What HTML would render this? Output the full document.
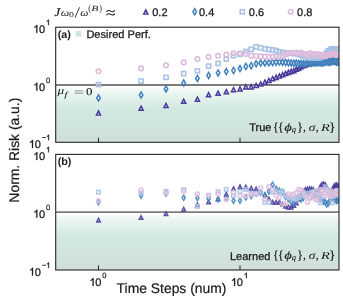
<!DOCTYPE html><html><head><meta charset="utf-8"><title>chart</title><style>html,body{margin:0;padding:0;background:#fff;}svg{display:block;text-rendering:geometricPrecision;will-change:transform;}</style></head><body><svg width="343" height="299" viewBox="0 0 343 299" font-family="Liberation Sans, sans-serif" fill="#1a1a1a">
<defs><linearGradient id="grad" x1="0" y1="0" x2="0" y2="1"><stop offset="0" stop-color="#ffffff"/><stop offset="0.15" stop-color="#eaf5f1"/><stop offset="0.42" stop-color="#d1e9e0"/><stop offset="1" stop-color="#cfdfd9"/></linearGradient></defs>
<rect width="343" height="299" fill="#fff"/>
<clipPath id="ca"><rect x="55.7" y="27.2" width="283.3" height="115.10000000000001"/></clipPath>
<rect x="55.7" y="85.00" width="283.3" height="57.30" fill="url(#grad)"/>
<g clip-path="url(#ca)">
<line x1="55.7" y1="85.00" x2="339.0" y2="85.00" stroke="#7c7c7c" stroke-width="1.8"/>
<g stroke-opacity="1.0">
<path d="M98.50,110.90L100.60,115.10L96.40,115.10Z" fill="#c9c4e6" fill-opacity="0.4" stroke="#47399a" stroke-width="1.45"/>
<path d="M141.10,106.10L143.20,110.30L139.00,110.30Z" fill="#c9c4e6" fill-opacity="0.4" stroke="#47399a" stroke-width="1.45"/>
<path d="M166.01,103.30L168.11,107.50L163.91,107.50Z" fill="#c9c4e6" fill-opacity="0.4" stroke="#47399a" stroke-width="1.45"/>
<path d="M183.69,99.10L185.79,103.30L181.59,103.30Z" fill="#c9c4e6" fill-opacity="0.4" stroke="#47399a" stroke-width="1.45"/>
<path d="M197.40,97.10L199.50,101.30L195.30,101.30Z" fill="#c9c4e6" fill-opacity="0.4" stroke="#47399a" stroke-width="1.45"/>
<path d="M208.61,92.60L210.71,96.80L206.51,96.80Z" fill="#c9c4e6" fill-opacity="0.4" stroke="#47399a" stroke-width="1.45"/>
<path d="M218.08,91.10L220.18,95.30L215.98,95.30Z" fill="#c9c4e6" fill-opacity="0.4" stroke="#47399a" stroke-width="1.45"/>
<path d="M226.29,89.60L228.39,93.80L224.19,93.80Z" fill="#c9c4e6" fill-opacity="0.4" stroke="#47399a" stroke-width="1.45"/>
<path d="M233.53,87.50L235.63,91.70L231.43,91.70Z" fill="#c9c4e6" fill-opacity="0.4" stroke="#47399a" stroke-width="1.45"/>
<path d="M240.00,86.70L242.10,90.90L237.90,90.90Z" fill="#c9c4e6" fill-opacity="0.4" stroke="#47399a" stroke-width="1.45"/>
<path d="M245.86,84.70L247.96,88.90L243.76,88.90Z" fill="#c9c4e6" fill-opacity="0.4" stroke="#47399a" stroke-width="1.45"/>
<path d="M251.20,84.70L253.30,88.90L249.10,88.90Z" fill="#c9c4e6" fill-opacity="0.4" stroke="#47399a" stroke-width="1.45"/>
<path d="M256.12,83.40L258.22,87.60L254.02,87.60Z" fill="#c9c4e6" fill-opacity="0.4" stroke="#47399a" stroke-width="1.45"/>
<path d="M260.68,81.80L262.78,86.00L258.58,86.00Z" fill="#c9c4e6" fill-opacity="0.4" stroke="#47399a" stroke-width="1.45"/>
<path d="M264.92,80.00L267.02,84.20L262.82,84.20Z" fill="#c9c4e6" fill-opacity="0.4" stroke="#47399a" stroke-width="1.45"/>
<path d="M268.88,78.30L270.98,82.50L266.78,82.50Z" fill="#c9c4e6" fill-opacity="0.4" stroke="#47399a" stroke-width="1.45"/>
<path d="M272.61,76.50L274.71,80.70L270.51,80.70Z" fill="#c9c4e6" fill-opacity="0.4" stroke="#47399a" stroke-width="1.45"/>
<path d="M276.12,75.20L278.22,79.40L274.02,79.40Z" fill="#c9c4e6" fill-opacity="0.4" stroke="#47399a" stroke-width="1.45"/>
<path d="M279.44,73.90L281.54,78.10L277.34,78.10Z" fill="#c9c4e6" fill-opacity="0.4" stroke="#47399a" stroke-width="1.45"/>
<path d="M282.60,72.60L284.70,76.80L280.50,76.80Z" fill="#c9c4e6" fill-opacity="0.4" stroke="#47399a" stroke-width="1.45"/>
<path d="M285.59,71.40L287.69,75.60L283.49,75.60Z" fill="#c9c4e6" fill-opacity="0.4" stroke="#47399a" stroke-width="1.45"/>
<path d="M288.45,70.20L290.55,74.40L286.35,74.40Z" fill="#c9c4e6" fill-opacity="0.4" stroke="#47399a" stroke-width="1.45"/>
<path d="M291.18,69.20L293.28,73.40L289.08,73.40Z" fill="#c9c4e6" fill-opacity="0.4" stroke="#47399a" stroke-width="1.45"/>
<path d="M293.80,68.50L295.90,72.70L291.70,72.70Z" fill="#c9c4e6" fill-opacity="0.4" stroke="#47399a" stroke-width="1.45"/>
<path d="M296.31,66.96L298.41,71.16L294.21,71.16Z" fill="#c9c4e6" fill-opacity="0.4" stroke="#47399a" stroke-width="1.45"/>
<path d="M298.72,66.11L300.82,70.31L296.62,70.31Z" fill="#c9c4e6" fill-opacity="0.4" stroke="#47399a" stroke-width="1.45"/>
<path d="M301.04,64.57L303.14,68.77L298.94,68.77Z" fill="#c9c4e6" fill-opacity="0.4" stroke="#47399a" stroke-width="1.45"/>
<path d="M303.27,63.58L305.37,67.78L301.17,67.78Z" fill="#c9c4e6" fill-opacity="0.4" stroke="#47399a" stroke-width="1.45"/>
<path d="M305.43,62.72L307.53,66.92L303.33,66.92Z" fill="#c9c4e6" fill-opacity="0.4" stroke="#47399a" stroke-width="1.45"/>
<path d="M307.51,61.73L309.61,65.93L305.41,65.93Z" fill="#c9c4e6" fill-opacity="0.4" stroke="#47399a" stroke-width="1.45"/>
<path d="M309.53,61.55L311.63,65.75L307.43,65.75Z" fill="#c9c4e6" fill-opacity="0.4" stroke="#47399a" stroke-width="1.45"/>
<path d="M311.48,60.80L313.58,65.00L309.38,65.00Z" fill="#c9c4e6" fill-opacity="0.4" stroke="#47399a" stroke-width="1.45"/>
<path d="M313.37,60.36L315.47,64.56L311.27,64.56Z" fill="#c9c4e6" fill-opacity="0.4" stroke="#47399a" stroke-width="1.45"/>
<path d="M315.20,60.47L317.30,64.67L313.10,64.67Z" fill="#c9c4e6" fill-opacity="0.4" stroke="#47399a" stroke-width="1.45"/>
<path d="M316.99,60.36L319.09,64.56L314.89,64.56Z" fill="#c9c4e6" fill-opacity="0.4" stroke="#47399a" stroke-width="1.45"/>
<path d="M318.72,60.30L320.82,64.50L316.62,64.50Z" fill="#c9c4e6" fill-opacity="0.4" stroke="#47399a" stroke-width="1.45"/>
<path d="M320.40,59.49L322.50,63.69L318.30,63.69Z" fill="#c9c4e6" fill-opacity="0.4" stroke="#47399a" stroke-width="1.45"/>
<path d="M322.04,59.59L324.14,63.79L319.94,63.79Z" fill="#c9c4e6" fill-opacity="0.4" stroke="#47399a" stroke-width="1.45"/>
<path d="M323.64,59.56L325.74,63.76L321.54,63.76Z" fill="#c9c4e6" fill-opacity="0.4" stroke="#47399a" stroke-width="1.45"/>
<path d="M325.19,59.48L327.29,63.68L323.09,63.68Z" fill="#c9c4e6" fill-opacity="0.4" stroke="#47399a" stroke-width="1.45"/>
<path d="M326.71,59.66L328.81,63.86L324.61,63.86Z" fill="#c9c4e6" fill-opacity="0.4" stroke="#47399a" stroke-width="1.45"/>
<path d="M328.19,59.36L330.29,63.56L326.09,63.56Z" fill="#c9c4e6" fill-opacity="0.4" stroke="#47399a" stroke-width="1.45"/>
<path d="M329.64,58.93L331.74,63.13L327.54,63.13Z" fill="#c9c4e6" fill-opacity="0.4" stroke="#47399a" stroke-width="1.45"/>
<path d="M331.05,58.87L333.15,63.07L328.95,63.07Z" fill="#c9c4e6" fill-opacity="0.4" stroke="#47399a" stroke-width="1.45"/>
<path d="M332.43,59.11L334.53,63.31L330.33,63.31Z" fill="#c9c4e6" fill-opacity="0.4" stroke="#47399a" stroke-width="1.45"/>
<path d="M333.78,59.20L335.88,63.40L331.68,63.40Z" fill="#c9c4e6" fill-opacity="0.4" stroke="#47399a" stroke-width="1.45"/>
<path d="M335.10,59.21L337.20,63.41L333.00,63.41Z" fill="#c9c4e6" fill-opacity="0.4" stroke="#47399a" stroke-width="1.45"/>
<path d="M336.40,58.83L338.50,63.03L334.30,63.03Z" fill="#c9c4e6" fill-opacity="0.4" stroke="#47399a" stroke-width="1.45"/>
<path d="M337.66,58.62L339.76,62.82L335.56,62.82Z" fill="#c9c4e6" fill-opacity="0.4" stroke="#47399a" stroke-width="1.45"/>
<path d="M338.90,58.89L341.00,63.09L336.80,63.09Z" fill="#c9c4e6" fill-opacity="0.4" stroke="#47399a" stroke-width="1.45"/>
<path d="M98.50,94.85L100.30,97.90L98.50,100.95L96.70,97.90Z" fill="#e4eef8" fill-opacity="0.4" stroke="#3f7fbc" stroke-width="1.45"/>
<path d="M141.10,91.85L142.90,94.90L141.10,97.95L139.30,94.90Z" fill="#e4eef8" fill-opacity="0.4" stroke="#3f7fbc" stroke-width="1.45"/>
<path d="M166.01,85.85L167.81,88.90L166.01,91.95L164.21,88.90Z" fill="#e4eef8" fill-opacity="0.4" stroke="#3f7fbc" stroke-width="1.45"/>
<path d="M183.69,79.85L185.49,82.90L183.69,85.95L181.89,82.90Z" fill="#e4eef8" fill-opacity="0.4" stroke="#3f7fbc" stroke-width="1.45"/>
<path d="M197.40,75.35L199.20,78.40L197.40,81.45L195.60,78.40Z" fill="#e4eef8" fill-opacity="0.4" stroke="#3f7fbc" stroke-width="1.45"/>
<path d="M208.61,72.35L210.41,75.40L208.61,78.45L206.81,75.40Z" fill="#e4eef8" fill-opacity="0.4" stroke="#3f7fbc" stroke-width="1.45"/>
<path d="M218.08,69.85L219.88,72.90L218.08,75.95L216.28,72.90Z" fill="#e4eef8" fill-opacity="0.4" stroke="#3f7fbc" stroke-width="1.45"/>
<path d="M226.29,68.55L228.09,71.60L226.29,74.65L224.49,71.60Z" fill="#e4eef8" fill-opacity="0.4" stroke="#3f7fbc" stroke-width="1.45"/>
<path d="M233.53,67.45L235.33,70.50L233.53,73.55L231.73,70.50Z" fill="#e4eef8" fill-opacity="0.4" stroke="#3f7fbc" stroke-width="1.45"/>
<path d="M240.00,65.55L241.80,68.60L240.00,71.65L238.20,68.60Z" fill="#e4eef8" fill-opacity="0.4" stroke="#3f7fbc" stroke-width="1.45"/>
<path d="M245.86,63.45L247.66,66.50L245.86,69.55L244.06,66.50Z" fill="#e4eef8" fill-opacity="0.4" stroke="#3f7fbc" stroke-width="1.45"/>
<path d="M251.20,62.65L253.00,65.70L251.20,68.75L249.40,65.70Z" fill="#e4eef8" fill-opacity="0.4" stroke="#3f7fbc" stroke-width="1.45"/>
<path d="M256.12,60.75L257.92,63.80L256.12,66.85L254.32,63.80Z" fill="#e4eef8" fill-opacity="0.4" stroke="#3f7fbc" stroke-width="1.45"/>
<path d="M260.68,60.05L262.48,63.10L260.68,66.15L258.88,63.10Z" fill="#e4eef8" fill-opacity="0.4" stroke="#3f7fbc" stroke-width="1.45"/>
<path d="M264.92,59.85L266.72,62.90L264.92,65.95L263.12,62.90Z" fill="#e4eef8" fill-opacity="0.4" stroke="#3f7fbc" stroke-width="1.45"/>
<path d="M268.88,59.65L270.68,62.70L268.88,65.75L267.08,62.70Z" fill="#e4eef8" fill-opacity="0.4" stroke="#3f7fbc" stroke-width="1.45"/>
<path d="M272.61,59.45L274.41,62.50L272.61,65.55L270.81,62.50Z" fill="#e4eef8" fill-opacity="0.4" stroke="#3f7fbc" stroke-width="1.45"/>
<path d="M276.12,59.15L277.92,62.20L276.12,65.25L274.32,62.20Z" fill="#e4eef8" fill-opacity="0.4" stroke="#3f7fbc" stroke-width="1.45"/>
<path d="M279.44,59.05L281.24,62.10L279.44,65.15L277.64,62.10Z" fill="#e4eef8" fill-opacity="0.4" stroke="#3f7fbc" stroke-width="1.45"/>
<path d="M282.60,59.15L284.40,62.20L282.60,65.25L280.80,62.20Z" fill="#e4eef8" fill-opacity="0.4" stroke="#3f7fbc" stroke-width="1.45"/>
<path d="M285.59,59.45L287.39,62.50L285.59,65.55L283.79,62.50Z" fill="#e4eef8" fill-opacity="0.4" stroke="#3f7fbc" stroke-width="1.45"/>
<path d="M288.45,59.75L290.25,62.80L288.45,65.85L286.65,62.80Z" fill="#e4eef8" fill-opacity="0.4" stroke="#3f7fbc" stroke-width="1.45"/>
<path d="M291.18,59.85L292.98,62.90L291.18,65.95L289.38,62.90Z" fill="#e4eef8" fill-opacity="0.4" stroke="#3f7fbc" stroke-width="1.45"/>
<path d="M293.80,60.15L295.60,63.20L293.80,66.25L292.00,63.20Z" fill="#e4eef8" fill-opacity="0.4" stroke="#3f7fbc" stroke-width="1.45"/>
<path d="M296.31,60.03L298.11,63.08L296.31,66.13L294.51,63.08Z" fill="#e4eef8" fill-opacity="0.4" stroke="#3f7fbc" stroke-width="1.45"/>
<path d="M298.72,60.39L300.52,63.44L298.72,66.49L296.92,63.44Z" fill="#e4eef8" fill-opacity="0.4" stroke="#3f7fbc" stroke-width="1.45"/>
<path d="M301.04,60.47L302.84,63.52L301.04,66.57L299.24,63.52Z" fill="#e4eef8" fill-opacity="0.4" stroke="#3f7fbc" stroke-width="1.45"/>
<path d="M303.27,60.84L305.07,63.89L303.27,66.94L301.47,63.89Z" fill="#e4eef8" fill-opacity="0.4" stroke="#3f7fbc" stroke-width="1.45"/>
<path d="M305.43,60.99L307.23,64.04L305.43,67.09L303.63,64.04Z" fill="#e4eef8" fill-opacity="0.4" stroke="#3f7fbc" stroke-width="1.45"/>
<path d="M307.51,59.81L309.31,62.86L307.51,65.91L305.71,62.86Z" fill="#e4eef8" fill-opacity="0.4" stroke="#3f7fbc" stroke-width="1.45"/>
<path d="M309.53,59.79L311.33,62.84L309.53,65.89L307.73,62.84Z" fill="#e4eef8" fill-opacity="0.4" stroke="#3f7fbc" stroke-width="1.45"/>
<path d="M311.48,60.25L313.28,63.30L311.48,66.35L309.68,63.30Z" fill="#e4eef8" fill-opacity="0.4" stroke="#3f7fbc" stroke-width="1.45"/>
<path d="M313.37,59.53L315.17,62.58L313.37,65.63L311.57,62.58Z" fill="#e4eef8" fill-opacity="0.4" stroke="#3f7fbc" stroke-width="1.45"/>
<path d="M315.20,59.86L317.00,62.91L315.20,65.96L313.40,62.91Z" fill="#e4eef8" fill-opacity="0.4" stroke="#3f7fbc" stroke-width="1.45"/>
<path d="M316.99,59.61L318.79,62.66L316.99,65.71L315.19,62.66Z" fill="#e4eef8" fill-opacity="0.4" stroke="#3f7fbc" stroke-width="1.45"/>
<path d="M318.72,59.84L320.52,62.89L318.72,65.94L316.92,62.89Z" fill="#e4eef8" fill-opacity="0.4" stroke="#3f7fbc" stroke-width="1.45"/>
<path d="M320.40,59.40L322.20,62.45L320.40,65.50L318.60,62.45Z" fill="#e4eef8" fill-opacity="0.4" stroke="#3f7fbc" stroke-width="1.45"/>
<path d="M322.04,59.86L323.84,62.91L322.04,65.96L320.24,62.91Z" fill="#e4eef8" fill-opacity="0.4" stroke="#3f7fbc" stroke-width="1.45"/>
<path d="M323.64,59.65L325.44,62.70L323.64,65.75L321.84,62.70Z" fill="#e4eef8" fill-opacity="0.4" stroke="#3f7fbc" stroke-width="1.45"/>
<path d="M325.19,59.03L326.99,62.08L325.19,65.13L323.39,62.08Z" fill="#e4eef8" fill-opacity="0.4" stroke="#3f7fbc" stroke-width="1.45"/>
<path d="M326.71,59.00L328.51,62.05L326.71,65.10L324.91,62.05Z" fill="#e4eef8" fill-opacity="0.4" stroke="#3f7fbc" stroke-width="1.45"/>
<path d="M328.19,59.05L329.99,62.10L328.19,65.15L326.39,62.10Z" fill="#e4eef8" fill-opacity="0.4" stroke="#3f7fbc" stroke-width="1.45"/>
<path d="M329.64,59.34L331.44,62.39L329.64,65.44L327.84,62.39Z" fill="#e4eef8" fill-opacity="0.4" stroke="#3f7fbc" stroke-width="1.45"/>
<path d="M331.05,58.85L332.85,61.90L331.05,64.95L329.25,61.90Z" fill="#e4eef8" fill-opacity="0.4" stroke="#3f7fbc" stroke-width="1.45"/>
<path d="M332.43,58.09L334.23,61.14L332.43,64.19L330.63,61.14Z" fill="#e4eef8" fill-opacity="0.4" stroke="#3f7fbc" stroke-width="1.45"/>
<path d="M333.78,58.15L335.58,61.20L333.78,64.25L331.98,61.20Z" fill="#e4eef8" fill-opacity="0.4" stroke="#3f7fbc" stroke-width="1.45"/>
<path d="M335.10,58.39L336.90,61.44L335.10,64.49L333.30,61.44Z" fill="#e4eef8" fill-opacity="0.4" stroke="#3f7fbc" stroke-width="1.45"/>
<path d="M336.40,58.89L338.20,61.94L336.40,64.99L334.60,61.94Z" fill="#e4eef8" fill-opacity="0.4" stroke="#3f7fbc" stroke-width="1.45"/>
<path d="M337.66,58.91L339.46,61.96L337.66,65.01L335.86,61.96Z" fill="#e4eef8" fill-opacity="0.4" stroke="#3f7fbc" stroke-width="1.45"/>
<path d="M338.90,58.13L340.70,61.18L338.90,64.23L337.10,61.18Z" fill="#e4eef8" fill-opacity="0.4" stroke="#3f7fbc" stroke-width="1.45"/>
<rect x="96.40" y="82.50" width="4.2" height="4.2" fill="#e6edf8" fill-opacity="0.4" stroke="#a7bfe3" stroke-width="1.45"/>
<rect x="139.00" y="79.00" width="4.2" height="4.2" fill="#e6edf8" fill-opacity="0.4" stroke="#a7bfe3" stroke-width="1.45"/>
<rect x="163.91" y="75.30" width="4.2" height="4.2" fill="#e6edf8" fill-opacity="0.4" stroke="#a7bfe3" stroke-width="1.45"/>
<rect x="181.59" y="71.50" width="4.2" height="4.2" fill="#e6edf8" fill-opacity="0.4" stroke="#a7bfe3" stroke-width="1.45"/>
<rect x="195.30" y="68.80" width="4.2" height="4.2" fill="#e6edf8" fill-opacity="0.4" stroke="#a7bfe3" stroke-width="1.45"/>
<rect x="206.51" y="64.00" width="4.2" height="4.2" fill="#e6edf8" fill-opacity="0.4" stroke="#a7bfe3" stroke-width="1.45"/>
<rect x="215.98" y="61.30" width="4.2" height="4.2" fill="#e6edf8" fill-opacity="0.4" stroke="#a7bfe3" stroke-width="1.45"/>
<rect x="224.19" y="57.00" width="4.2" height="4.2" fill="#e6edf8" fill-opacity="0.4" stroke="#a7bfe3" stroke-width="1.45"/>
<rect x="231.43" y="53.60" width="4.2" height="4.2" fill="#e6edf8" fill-opacity="0.4" stroke="#a7bfe3" stroke-width="1.45"/>
<rect x="237.90" y="52.20" width="4.2" height="4.2" fill="#e6edf8" fill-opacity="0.4" stroke="#a7bfe3" stroke-width="1.45"/>
<rect x="243.76" y="49.40" width="4.2" height="4.2" fill="#e6edf8" fill-opacity="0.4" stroke="#a7bfe3" stroke-width="1.45"/>
<rect x="249.10" y="47.30" width="4.2" height="4.2" fill="#e6edf8" fill-opacity="0.4" stroke="#a7bfe3" stroke-width="1.45"/>
<rect x="254.02" y="44.80" width="4.2" height="4.2" fill="#e6edf8" fill-opacity="0.4" stroke="#a7bfe3" stroke-width="1.45"/>
<rect x="258.58" y="45.70" width="4.2" height="4.2" fill="#e6edf8" fill-opacity="0.4" stroke="#a7bfe3" stroke-width="1.45"/>
<rect x="262.82" y="46.70" width="4.2" height="4.2" fill="#e6edf8" fill-opacity="0.4" stroke="#a7bfe3" stroke-width="1.45"/>
<rect x="266.78" y="47.40" width="4.2" height="4.2" fill="#e6edf8" fill-opacity="0.4" stroke="#a7bfe3" stroke-width="1.45"/>
<rect x="270.51" y="47.80" width="4.2" height="4.2" fill="#e6edf8" fill-opacity="0.4" stroke="#a7bfe3" stroke-width="1.45"/>
<rect x="274.02" y="48.50" width="4.2" height="4.2" fill="#e6edf8" fill-opacity="0.4" stroke="#a7bfe3" stroke-width="1.45"/>
<rect x="277.34" y="49.80" width="4.2" height="4.2" fill="#e6edf8" fill-opacity="0.4" stroke="#a7bfe3" stroke-width="1.45"/>
<rect x="280.50" y="50.40" width="4.2" height="4.2" fill="#e6edf8" fill-opacity="0.4" stroke="#a7bfe3" stroke-width="1.45"/>
<rect x="283.49" y="50.80" width="4.2" height="4.2" fill="#e6edf8" fill-opacity="0.4" stroke="#a7bfe3" stroke-width="1.45"/>
<rect x="286.35" y="51.00" width="4.2" height="4.2" fill="#e6edf8" fill-opacity="0.4" stroke="#a7bfe3" stroke-width="1.45"/>
<rect x="289.08" y="51.20" width="4.2" height="4.2" fill="#e6edf8" fill-opacity="0.4" stroke="#a7bfe3" stroke-width="1.45"/>
<rect x="291.70" y="51.40" width="4.2" height="4.2" fill="#e6edf8" fill-opacity="0.4" stroke="#a7bfe3" stroke-width="1.45"/>
<rect x="294.21" y="51.70" width="4.2" height="4.2" fill="#e6edf8" fill-opacity="0.4" stroke="#a7bfe3" stroke-width="1.45"/>
<rect x="296.62" y="52.20" width="4.2" height="4.2" fill="#e6edf8" fill-opacity="0.4" stroke="#a7bfe3" stroke-width="1.45"/>
<rect x="298.94" y="53.00" width="4.2" height="4.2" fill="#e6edf8" fill-opacity="0.4" stroke="#a7bfe3" stroke-width="1.45"/>
<rect x="301.17" y="54.00" width="4.2" height="4.2" fill="#e6edf8" fill-opacity="0.4" stroke="#a7bfe3" stroke-width="1.45"/>
<rect x="303.33" y="54.90" width="4.2" height="4.2" fill="#e6edf8" fill-opacity="0.4" stroke="#a7bfe3" stroke-width="1.45"/>
<rect x="305.41" y="55.50" width="4.2" height="4.2" fill="#e6edf8" fill-opacity="0.4" stroke="#a7bfe3" stroke-width="1.45"/>
<rect x="307.43" y="55.51" width="4.2" height="4.2" fill="#e6edf8" fill-opacity="0.4" stroke="#a7bfe3" stroke-width="1.45"/>
<rect x="309.38" y="55.84" width="4.2" height="4.2" fill="#e6edf8" fill-opacity="0.4" stroke="#a7bfe3" stroke-width="1.45"/>
<rect x="311.27" y="55.26" width="4.2" height="4.2" fill="#e6edf8" fill-opacity="0.4" stroke="#a7bfe3" stroke-width="1.45"/>
<rect x="313.10" y="55.51" width="4.2" height="4.2" fill="#e6edf8" fill-opacity="0.4" stroke="#a7bfe3" stroke-width="1.45"/>
<rect x="314.89" y="55.99" width="4.2" height="4.2" fill="#e6edf8" fill-opacity="0.4" stroke="#a7bfe3" stroke-width="1.45"/>
<rect x="316.62" y="55.73" width="4.2" height="4.2" fill="#e6edf8" fill-opacity="0.4" stroke="#a7bfe3" stroke-width="1.45"/>
<rect x="318.30" y="55.58" width="4.2" height="4.2" fill="#e6edf8" fill-opacity="0.4" stroke="#a7bfe3" stroke-width="1.45"/>
<rect x="319.94" y="54.45" width="4.2" height="4.2" fill="#e6edf8" fill-opacity="0.4" stroke="#a7bfe3" stroke-width="1.45"/>
<rect x="321.54" y="54.26" width="4.2" height="4.2" fill="#e6edf8" fill-opacity="0.4" stroke="#a7bfe3" stroke-width="1.45"/>
<rect x="323.09" y="52.40" width="4.2" height="4.2" fill="#e6edf8" fill-opacity="0.4" stroke="#a7bfe3" stroke-width="1.45"/>
<rect x="324.61" y="51.04" width="4.2" height="4.2" fill="#e6edf8" fill-opacity="0.4" stroke="#a7bfe3" stroke-width="1.45"/>
<rect x="326.09" y="48.76" width="4.2" height="4.2" fill="#e6edf8" fill-opacity="0.4" stroke="#a7bfe3" stroke-width="1.45"/>
<rect x="327.54" y="48.42" width="4.2" height="4.2" fill="#e6edf8" fill-opacity="0.4" stroke="#a7bfe3" stroke-width="1.45"/>
<rect x="328.95" y="46.92" width="4.2" height="4.2" fill="#e6edf8" fill-opacity="0.4" stroke="#a7bfe3" stroke-width="1.45"/>
<rect x="330.33" y="46.66" width="4.2" height="4.2" fill="#e6edf8" fill-opacity="0.4" stroke="#a7bfe3" stroke-width="1.45"/>
<rect x="331.68" y="46.99" width="4.2" height="4.2" fill="#e6edf8" fill-opacity="0.4" stroke="#a7bfe3" stroke-width="1.45"/>
<rect x="333.00" y="47.15" width="4.2" height="4.2" fill="#e6edf8" fill-opacity="0.4" stroke="#a7bfe3" stroke-width="1.45"/>
<rect x="334.30" y="46.88" width="4.2" height="4.2" fill="#e6edf8" fill-opacity="0.4" stroke="#a7bfe3" stroke-width="1.45"/>
<rect x="335.56" y="47.56" width="4.2" height="4.2" fill="#e6edf8" fill-opacity="0.4" stroke="#a7bfe3" stroke-width="1.45"/>
<rect x="336.80" y="46.83" width="4.2" height="4.2" fill="#e6edf8" fill-opacity="0.4" stroke="#a7bfe3" stroke-width="1.45"/>
<circle cx="98.50" cy="71.30" r="2.35" fill="#f7eef7" fill-opacity="0.4" stroke="#dab8da" stroke-width="1.4"/>
<circle cx="141.10" cy="68.40" r="2.35" fill="#f7eef7" fill-opacity="0.4" stroke="#dab8da" stroke-width="1.4"/>
<circle cx="166.01" cy="65.30" r="2.35" fill="#f7eef7" fill-opacity="0.4" stroke="#dab8da" stroke-width="1.4"/>
<circle cx="183.69" cy="62.40" r="2.35" fill="#f7eef7" fill-opacity="0.4" stroke="#dab8da" stroke-width="1.4"/>
<circle cx="197.40" cy="59.10" r="2.35" fill="#f7eef7" fill-opacity="0.4" stroke="#dab8da" stroke-width="1.4"/>
<circle cx="208.61" cy="57.10" r="2.35" fill="#f7eef7" fill-opacity="0.4" stroke="#dab8da" stroke-width="1.4"/>
<circle cx="218.08" cy="55.80" r="2.35" fill="#f7eef7" fill-opacity="0.4" stroke="#dab8da" stroke-width="1.4"/>
<circle cx="226.29" cy="54.60" r="2.35" fill="#f7eef7" fill-opacity="0.4" stroke="#dab8da" stroke-width="1.4"/>
<circle cx="233.53" cy="53.30" r="2.35" fill="#f7eef7" fill-opacity="0.4" stroke="#dab8da" stroke-width="1.4"/>
<circle cx="240.00" cy="53.30" r="2.35" fill="#f7eef7" fill-opacity="0.4" stroke="#dab8da" stroke-width="1.4"/>
<circle cx="245.86" cy="53.90" r="2.35" fill="#f7eef7" fill-opacity="0.4" stroke="#dab8da" stroke-width="1.4"/>
<circle cx="251.20" cy="55.70" r="2.35" fill="#f7eef7" fill-opacity="0.4" stroke="#dab8da" stroke-width="1.4"/>
<circle cx="256.12" cy="56.00" r="2.35" fill="#f7eef7" fill-opacity="0.4" stroke="#dab8da" stroke-width="1.4"/>
<circle cx="260.68" cy="56.40" r="2.35" fill="#f7eef7" fill-opacity="0.4" stroke="#dab8da" stroke-width="1.4"/>
<circle cx="264.92" cy="56.60" r="2.35" fill="#f7eef7" fill-opacity="0.4" stroke="#dab8da" stroke-width="1.4"/>
<circle cx="268.88" cy="56.90" r="2.35" fill="#f7eef7" fill-opacity="0.4" stroke="#dab8da" stroke-width="1.4"/>
<circle cx="272.61" cy="56.90" r="2.35" fill="#f7eef7" fill-opacity="0.4" stroke="#dab8da" stroke-width="1.4"/>
<circle cx="276.12" cy="56.50" r="2.35" fill="#f7eef7" fill-opacity="0.4" stroke="#dab8da" stroke-width="1.4"/>
<circle cx="279.44" cy="56.90" r="2.35" fill="#f7eef7" fill-opacity="0.4" stroke="#dab8da" stroke-width="1.4"/>
<circle cx="282.60" cy="55.90" r="2.35" fill="#f7eef7" fill-opacity="0.4" stroke="#dab8da" stroke-width="1.4"/>
<circle cx="285.59" cy="54.50" r="2.35" fill="#f7eef7" fill-opacity="0.4" stroke="#dab8da" stroke-width="1.4"/>
<circle cx="288.45" cy="53.40" r="2.35" fill="#f7eef7" fill-opacity="0.4" stroke="#dab8da" stroke-width="1.4"/>
<circle cx="291.18" cy="52.90" r="2.35" fill="#f7eef7" fill-opacity="0.4" stroke="#dab8da" stroke-width="1.4"/>
<circle cx="293.80" cy="52.80" r="2.35" fill="#f7eef7" fill-opacity="0.4" stroke="#dab8da" stroke-width="1.4"/>
<circle cx="296.31" cy="52.65" r="2.35" fill="#f7eef7" fill-opacity="0.4" stroke="#dab8da" stroke-width="1.4"/>
<circle cx="298.72" cy="53.37" r="2.35" fill="#f7eef7" fill-opacity="0.4" stroke="#dab8da" stroke-width="1.4"/>
<circle cx="301.04" cy="52.57" r="2.35" fill="#f7eef7" fill-opacity="0.4" stroke="#dab8da" stroke-width="1.4"/>
<circle cx="303.27" cy="53.95" r="2.35" fill="#f7eef7" fill-opacity="0.4" stroke="#dab8da" stroke-width="1.4"/>
<circle cx="305.43" cy="54.35" r="2.35" fill="#f7eef7" fill-opacity="0.4" stroke="#dab8da" stroke-width="1.4"/>
<circle cx="307.51" cy="55.15" r="2.35" fill="#f7eef7" fill-opacity="0.4" stroke="#dab8da" stroke-width="1.4"/>
<circle cx="309.53" cy="53.39" r="2.35" fill="#f7eef7" fill-opacity="0.4" stroke="#dab8da" stroke-width="1.4"/>
<circle cx="311.48" cy="53.46" r="2.35" fill="#f7eef7" fill-opacity="0.4" stroke="#dab8da" stroke-width="1.4"/>
<circle cx="313.37" cy="54.20" r="2.35" fill="#f7eef7" fill-opacity="0.4" stroke="#dab8da" stroke-width="1.4"/>
<circle cx="315.20" cy="54.46" r="2.35" fill="#f7eef7" fill-opacity="0.4" stroke="#dab8da" stroke-width="1.4"/>
<circle cx="316.99" cy="54.21" r="2.35" fill="#f7eef7" fill-opacity="0.4" stroke="#dab8da" stroke-width="1.4"/>
<circle cx="318.72" cy="54.29" r="2.35" fill="#f7eef7" fill-opacity="0.4" stroke="#dab8da" stroke-width="1.4"/>
<circle cx="320.40" cy="55.76" r="2.35" fill="#f7eef7" fill-opacity="0.4" stroke="#dab8da" stroke-width="1.4"/>
<circle cx="322.04" cy="55.64" r="2.35" fill="#f7eef7" fill-opacity="0.4" stroke="#dab8da" stroke-width="1.4"/>
<circle cx="323.64" cy="54.88" r="2.35" fill="#f7eef7" fill-opacity="0.4" stroke="#dab8da" stroke-width="1.4"/>
<circle cx="325.19" cy="56.35" r="2.35" fill="#f7eef7" fill-opacity="0.4" stroke="#dab8da" stroke-width="1.4"/>
<circle cx="326.71" cy="55.56" r="2.35" fill="#f7eef7" fill-opacity="0.4" stroke="#dab8da" stroke-width="1.4"/>
<circle cx="328.19" cy="55.15" r="2.35" fill="#f7eef7" fill-opacity="0.4" stroke="#dab8da" stroke-width="1.4"/>
<circle cx="329.64" cy="54.79" r="2.35" fill="#f7eef7" fill-opacity="0.4" stroke="#dab8da" stroke-width="1.4"/>
<circle cx="331.05" cy="54.27" r="2.35" fill="#f7eef7" fill-opacity="0.4" stroke="#dab8da" stroke-width="1.4"/>
<circle cx="332.43" cy="53.84" r="2.35" fill="#f7eef7" fill-opacity="0.4" stroke="#dab8da" stroke-width="1.4"/>
<circle cx="333.78" cy="53.76" r="2.35" fill="#f7eef7" fill-opacity="0.4" stroke="#dab8da" stroke-width="1.4"/>
<circle cx="335.10" cy="53.66" r="2.35" fill="#f7eef7" fill-opacity="0.4" stroke="#dab8da" stroke-width="1.4"/>
<circle cx="336.40" cy="55.14" r="2.35" fill="#f7eef7" fill-opacity="0.4" stroke="#dab8da" stroke-width="1.4"/>
<circle cx="337.66" cy="54.22" r="2.35" fill="#f7eef7" fill-opacity="0.4" stroke="#dab8da" stroke-width="1.4"/>
<circle cx="338.90" cy="53.85" r="2.35" fill="#f7eef7" fill-opacity="0.4" stroke="#dab8da" stroke-width="1.4"/>
</g>
</g>
<line x1="98.50" y1="142.3" x2="98.50" y2="137.70000000000002" stroke="#262626" stroke-width="1.0"/>
<line x1="240.00" y1="142.3" x2="240.00" y2="137.70000000000002" stroke="#262626" stroke-width="1.0"/>
<rect x="55.7" y="27.2" width="283.3" height="115.10000000000001" fill="none" stroke="#262626" stroke-width="1.1"/>
<clipPath id="cb"><rect x="55.7" y="154.4" width="283.3" height="115.6"/></clipPath>
<rect x="55.7" y="212.05" width="283.3" height="57.95" fill="url(#grad)"/>
<g clip-path="url(#cb)">
<line x1="55.7" y1="212.05" x2="339.0" y2="212.05" stroke="#7c7c7c" stroke-width="1.8"/>
<g stroke-opacity="0.88">
<path d="M98.50,218.40L100.30,222.00L96.70,222.00Z" fill="#c9c4e6" fill-opacity="0.4" stroke="#47399a" stroke-width="1.45"/>
<path d="M141.10,215.60L142.90,219.20L139.30,219.20Z" fill="#c9c4e6" fill-opacity="0.4" stroke="#47399a" stroke-width="1.45"/>
<path d="M166.01,211.80L167.81,215.40L164.21,215.40Z" fill="#c9c4e6" fill-opacity="0.4" stroke="#47399a" stroke-width="1.45"/>
<path d="M183.69,207.30L185.49,210.90L181.89,210.90Z" fill="#c9c4e6" fill-opacity="0.4" stroke="#47399a" stroke-width="1.45"/>
<path d="M197.40,203.00L199.20,206.60L195.60,206.60Z" fill="#c9c4e6" fill-opacity="0.4" stroke="#47399a" stroke-width="1.45"/>
<path d="M208.61,200.10L210.41,203.70L206.81,203.70Z" fill="#c9c4e6" fill-opacity="0.4" stroke="#47399a" stroke-width="1.45"/>
<path d="M218.08,197.20L219.88,200.80L216.28,200.80Z" fill="#c9c4e6" fill-opacity="0.4" stroke="#47399a" stroke-width="1.45"/>
<path d="M226.29,192.30L228.09,195.90L224.49,195.90Z" fill="#c9c4e6" fill-opacity="0.4" stroke="#47399a" stroke-width="1.45"/>
<path d="M233.53,186.90L235.33,190.50L231.73,190.50Z" fill="#c9c4e6" fill-opacity="0.4" stroke="#47399a" stroke-width="1.45"/>
<path d="M240.00,184.90L241.80,188.50L238.20,188.50Z" fill="#c9c4e6" fill-opacity="0.4" stroke="#47399a" stroke-width="1.45"/>
<path d="M245.86,185.20L247.66,188.80L244.06,188.80Z" fill="#c9c4e6" fill-opacity="0.4" stroke="#47399a" stroke-width="1.45"/>
<path d="M251.20,186.30L253.00,189.90L249.40,189.90Z" fill="#c9c4e6" fill-opacity="0.4" stroke="#47399a" stroke-width="1.45"/>
<path d="M256.12,187.20L257.92,190.80L254.32,190.80Z" fill="#c9c4e6" fill-opacity="0.4" stroke="#47399a" stroke-width="1.45"/>
<path d="M260.68,190.20L262.48,193.80L258.88,193.80Z" fill="#c9c4e6" fill-opacity="0.4" stroke="#47399a" stroke-width="1.45"/>
<path d="M264.92,193.00L266.72,196.60L263.12,196.60Z" fill="#c9c4e6" fill-opacity="0.4" stroke="#47399a" stroke-width="1.45"/>
<path d="M268.88,197.00L270.68,200.60L267.08,200.60Z" fill="#c9c4e6" fill-opacity="0.4" stroke="#47399a" stroke-width="1.45"/>
<path d="M272.61,200.40L274.41,204.00L270.81,204.00Z" fill="#c9c4e6" fill-opacity="0.4" stroke="#47399a" stroke-width="1.45"/>
<path d="M276.12,200.40L277.92,204.00L274.32,204.00Z" fill="#c9c4e6" fill-opacity="0.4" stroke="#47399a" stroke-width="1.45"/>
<path d="M279.44,200.40L281.24,204.00L277.64,204.00Z" fill="#c9c4e6" fill-opacity="0.4" stroke="#47399a" stroke-width="1.45"/>
<path d="M282.60,202.40L284.40,206.00L280.80,206.00Z" fill="#c9c4e6" fill-opacity="0.4" stroke="#47399a" stroke-width="1.45"/>
<path d="M285.59,204.40L287.39,208.00L283.79,208.00Z" fill="#c9c4e6" fill-opacity="0.4" stroke="#47399a" stroke-width="1.45"/>
<path d="M288.45,205.30L290.25,208.90L286.65,208.90Z" fill="#c9c4e6" fill-opacity="0.4" stroke="#47399a" stroke-width="1.45"/>
<path d="M291.18,205.30L292.98,208.90L289.38,208.90Z" fill="#c9c4e6" fill-opacity="0.4" stroke="#47399a" stroke-width="1.45"/>
<path d="M293.80,203.70L295.60,207.30L292.00,207.30Z" fill="#c9c4e6" fill-opacity="0.4" stroke="#47399a" stroke-width="1.45"/>
<path d="M296.31,201.20L298.11,204.80L294.51,204.80Z" fill="#c9c4e6" fill-opacity="0.4" stroke="#47399a" stroke-width="1.45"/>
<path d="M298.72,197.20L300.52,200.80L296.92,200.80Z" fill="#c9c4e6" fill-opacity="0.4" stroke="#47399a" stroke-width="1.45"/>
<path d="M301.04,193.20L302.84,196.80L299.24,196.80Z" fill="#c9c4e6" fill-opacity="0.4" stroke="#47399a" stroke-width="1.45"/>
<path d="M303.27,189.70L305.07,193.30L301.47,193.30Z" fill="#c9c4e6" fill-opacity="0.4" stroke="#47399a" stroke-width="1.45"/>
<path d="M305.43,187.70L307.23,191.30L303.63,191.30Z" fill="#c9c4e6" fill-opacity="0.4" stroke="#47399a" stroke-width="1.45"/>
<path d="M307.51,187.00L309.31,190.60L305.71,190.60Z" fill="#c9c4e6" fill-opacity="0.4" stroke="#47399a" stroke-width="1.45"/>
<path d="M309.53,186.80L311.33,190.40L307.73,190.40Z" fill="#c9c4e6" fill-opacity="0.4" stroke="#47399a" stroke-width="1.45"/>
<path d="M311.48,187.00L313.28,190.60L309.68,190.60Z" fill="#c9c4e6" fill-opacity="0.4" stroke="#47399a" stroke-width="1.45"/>
<path d="M313.37,187.70L315.17,191.30L311.57,191.30Z" fill="#c9c4e6" fill-opacity="0.4" stroke="#47399a" stroke-width="1.45"/>
<path d="M315.20,190.20L317.00,193.80L313.40,193.80Z" fill="#c9c4e6" fill-opacity="0.4" stroke="#47399a" stroke-width="1.45"/>
<path d="M316.99,191.70L318.79,195.30L315.19,195.30Z" fill="#c9c4e6" fill-opacity="0.4" stroke="#47399a" stroke-width="1.45"/>
<path d="M318.72,189.20L320.52,192.80L316.92,192.80Z" fill="#c9c4e6" fill-opacity="0.4" stroke="#47399a" stroke-width="1.45"/>
<path d="M320.40,184.70L322.20,188.30L318.60,188.30Z" fill="#c9c4e6" fill-opacity="0.4" stroke="#47399a" stroke-width="1.45"/>
<path d="M322.04,182.40L323.84,186.00L320.24,186.00Z" fill="#c9c4e6" fill-opacity="0.4" stroke="#47399a" stroke-width="1.45"/>
<path d="M323.64,182.10L325.44,185.70L321.84,185.70Z" fill="#c9c4e6" fill-opacity="0.4" stroke="#47399a" stroke-width="1.45"/>
<path d="M325.19,182.70L326.99,186.30L323.39,186.30Z" fill="#c9c4e6" fill-opacity="0.4" stroke="#47399a" stroke-width="1.45"/>
<path d="M326.71,185.70L328.51,189.30L324.91,189.30Z" fill="#c9c4e6" fill-opacity="0.4" stroke="#47399a" stroke-width="1.45"/>
<path d="M328.19,188.70L329.99,192.30L326.39,192.30Z" fill="#c9c4e6" fill-opacity="0.4" stroke="#47399a" stroke-width="1.45"/>
<path d="M329.64,190.20L331.44,193.80L327.84,193.80Z" fill="#c9c4e6" fill-opacity="0.4" stroke="#47399a" stroke-width="1.45"/>
<path d="M331.05,189.70L332.85,193.30L329.25,193.30Z" fill="#c9c4e6" fill-opacity="0.4" stroke="#47399a" stroke-width="1.45"/>
<path d="M332.43,187.70L334.23,191.30L330.63,191.30Z" fill="#c9c4e6" fill-opacity="0.4" stroke="#47399a" stroke-width="1.45"/>
<path d="M333.78,184.70L335.58,188.30L331.98,188.30Z" fill="#c9c4e6" fill-opacity="0.4" stroke="#47399a" stroke-width="1.45"/>
<path d="M335.10,183.40L336.90,187.00L333.30,187.00Z" fill="#c9c4e6" fill-opacity="0.4" stroke="#47399a" stroke-width="1.45"/>
<path d="M336.40,183.20L338.20,186.80L334.60,186.80Z" fill="#c9c4e6" fill-opacity="0.4" stroke="#47399a" stroke-width="1.45"/>
<path d="M337.66,183.50L339.46,187.10L335.86,187.10Z" fill="#c9c4e6" fill-opacity="0.4" stroke="#47399a" stroke-width="1.45"/>
<path d="M338.90,184.20L340.70,187.80L337.10,187.80Z" fill="#c9c4e6" fill-opacity="0.4" stroke="#47399a" stroke-width="1.45"/>
<path d="M98.50,199.69L100.04,202.30L98.50,204.91L96.96,202.30Z" fill="#e4eef8" fill-opacity="0.4" stroke="#3f7fbc" stroke-width="1.45"/>
<path d="M141.10,192.99L142.64,195.60L141.10,198.21L139.55,195.60Z" fill="#e4eef8" fill-opacity="0.4" stroke="#3f7fbc" stroke-width="1.45"/>
<path d="M166.01,190.89L167.56,193.50L166.01,196.11L164.47,193.50Z" fill="#e4eef8" fill-opacity="0.4" stroke="#3f7fbc" stroke-width="1.45"/>
<path d="M183.69,195.19L185.23,197.80L183.69,200.41L182.15,197.80Z" fill="#e4eef8" fill-opacity="0.4" stroke="#3f7fbc" stroke-width="1.45"/>
<path d="M197.40,195.49L198.95,198.10L197.40,200.71L195.86,198.10Z" fill="#e4eef8" fill-opacity="0.4" stroke="#3f7fbc" stroke-width="1.45"/>
<path d="M208.61,196.19L210.15,198.80L208.61,201.41L207.07,198.80Z" fill="#e4eef8" fill-opacity="0.4" stroke="#3f7fbc" stroke-width="1.45"/>
<path d="M218.08,196.59L219.62,199.20L218.08,201.81L216.54,199.20Z" fill="#e4eef8" fill-opacity="0.4" stroke="#3f7fbc" stroke-width="1.45"/>
<path d="M226.29,195.39L227.83,198.00L226.29,200.61L224.74,198.00Z" fill="#e4eef8" fill-opacity="0.4" stroke="#3f7fbc" stroke-width="1.45"/>
<path d="M233.53,198.19L235.07,200.80L233.53,203.41L231.98,200.80Z" fill="#e4eef8" fill-opacity="0.4" stroke="#3f7fbc" stroke-width="1.45"/>
<path d="M240.00,198.19L241.54,200.80L240.00,203.41L238.46,200.80Z" fill="#e4eef8" fill-opacity="0.4" stroke="#3f7fbc" stroke-width="1.45"/>
<path d="M245.86,194.89L247.40,197.50L245.86,200.11L244.31,197.50Z" fill="#e4eef8" fill-opacity="0.4" stroke="#3f7fbc" stroke-width="1.45"/>
<path d="M251.20,193.39L252.75,196.00L251.20,198.61L249.66,196.00Z" fill="#e4eef8" fill-opacity="0.4" stroke="#3f7fbc" stroke-width="1.45"/>
<path d="M256.12,190.89L257.67,193.50L256.12,196.11L254.58,193.50Z" fill="#e4eef8" fill-opacity="0.4" stroke="#3f7fbc" stroke-width="1.45"/>
<path d="M260.68,190.19L262.22,192.80L260.68,195.41L259.13,192.80Z" fill="#e4eef8" fill-opacity="0.4" stroke="#3f7fbc" stroke-width="1.45"/>
<path d="M264.92,192.89L266.46,195.50L264.92,198.11L263.37,195.50Z" fill="#e4eef8" fill-opacity="0.4" stroke="#3f7fbc" stroke-width="1.45"/>
<path d="M268.88,188.79L270.43,191.40L268.88,194.01L267.34,191.40Z" fill="#e4eef8" fill-opacity="0.4" stroke="#3f7fbc" stroke-width="1.45"/>
<path d="M272.61,182.09L274.15,184.70L272.61,187.31L271.07,184.70Z" fill="#e4eef8" fill-opacity="0.4" stroke="#3f7fbc" stroke-width="1.45"/>
<path d="M276.12,186.19L277.66,188.80L276.12,191.41L274.58,188.80Z" fill="#e4eef8" fill-opacity="0.4" stroke="#3f7fbc" stroke-width="1.45"/>
<path d="M279.44,188.19L280.99,190.80L279.44,193.41L277.90,190.80Z" fill="#e4eef8" fill-opacity="0.4" stroke="#3f7fbc" stroke-width="1.45"/>
<path d="M282.60,189.49L284.14,192.10L282.60,194.71L281.05,192.10Z" fill="#e4eef8" fill-opacity="0.4" stroke="#3f7fbc" stroke-width="1.45"/>
<path d="M285.59,194.19L287.14,196.80L285.59,199.41L284.05,196.80Z" fill="#e4eef8" fill-opacity="0.4" stroke="#3f7fbc" stroke-width="1.45"/>
<path d="M288.45,196.19L290.00,198.80L288.45,201.41L286.91,198.80Z" fill="#e4eef8" fill-opacity="0.4" stroke="#3f7fbc" stroke-width="1.45"/>
<path d="M291.18,199.39L292.73,202.00L291.18,204.61L289.64,202.00Z" fill="#e4eef8" fill-opacity="0.4" stroke="#3f7fbc" stroke-width="1.45"/>
<path d="M293.80,200.89L295.34,203.50L293.80,206.11L292.26,203.50Z" fill="#e4eef8" fill-opacity="0.4" stroke="#3f7fbc" stroke-width="1.45"/>
<path d="M296.31,197.39L297.85,200.00L296.31,202.61L294.77,200.00Z" fill="#e4eef8" fill-opacity="0.4" stroke="#3f7fbc" stroke-width="1.45"/>
<path d="M298.72,196.19L300.26,198.80L298.72,201.41L297.18,198.80Z" fill="#e4eef8" fill-opacity="0.4" stroke="#3f7fbc" stroke-width="1.45"/>
<path d="M301.04,196.89L302.58,199.50L301.04,202.11L299.50,199.50Z" fill="#e4eef8" fill-opacity="0.4" stroke="#3f7fbc" stroke-width="1.45"/>
<path d="M303.27,195.39L304.82,198.00L303.27,200.61L301.73,198.00Z" fill="#e4eef8" fill-opacity="0.4" stroke="#3f7fbc" stroke-width="1.45"/>
<path d="M305.43,191.39L306.97,194.00L305.43,196.61L303.89,194.00Z" fill="#e4eef8" fill-opacity="0.4" stroke="#3f7fbc" stroke-width="1.45"/>
<path d="M307.51,189.89L309.06,192.50L307.51,195.11L305.97,192.50Z" fill="#e4eef8" fill-opacity="0.4" stroke="#3f7fbc" stroke-width="1.45"/>
<path d="M309.53,189.39L311.07,192.00L309.53,194.61L307.98,192.00Z" fill="#e4eef8" fill-opacity="0.4" stroke="#3f7fbc" stroke-width="1.45"/>
<path d="M311.48,190.89L313.02,193.50L311.48,196.11L309.94,193.50Z" fill="#e4eef8" fill-opacity="0.4" stroke="#3f7fbc" stroke-width="1.45"/>
<path d="M313.37,193.39L314.91,196.00L313.37,198.61L311.83,196.00Z" fill="#e4eef8" fill-opacity="0.4" stroke="#3f7fbc" stroke-width="1.45"/>
<path d="M315.20,192.39L316.75,195.00L315.20,197.61L313.66,195.00Z" fill="#e4eef8" fill-opacity="0.4" stroke="#3f7fbc" stroke-width="1.45"/>
<path d="M316.99,195.39L318.53,198.00L316.99,200.61L315.44,198.00Z" fill="#e4eef8" fill-opacity="0.4" stroke="#3f7fbc" stroke-width="1.45"/>
<path d="M318.72,194.39L320.26,197.00L318.72,199.61L317.17,197.00Z" fill="#e4eef8" fill-opacity="0.4" stroke="#3f7fbc" stroke-width="1.45"/>
<path d="M320.40,196.89L321.94,199.50L320.40,202.11L318.86,199.50Z" fill="#e4eef8" fill-opacity="0.4" stroke="#3f7fbc" stroke-width="1.45"/>
<path d="M322.04,196.39L323.58,199.00L322.04,201.61L320.50,199.00Z" fill="#e4eef8" fill-opacity="0.4" stroke="#3f7fbc" stroke-width="1.45"/>
<path d="M323.64,198.89L325.18,201.50L323.64,204.11L322.09,201.50Z" fill="#e4eef8" fill-opacity="0.4" stroke="#3f7fbc" stroke-width="1.45"/>
<path d="M325.19,199.39L326.73,202.00L325.19,204.61L323.65,202.00Z" fill="#e4eef8" fill-opacity="0.4" stroke="#3f7fbc" stroke-width="1.45"/>
<path d="M326.71,201.89L328.25,204.50L326.71,207.11L325.17,204.50Z" fill="#e4eef8" fill-opacity="0.4" stroke="#3f7fbc" stroke-width="1.45"/>
<path d="M328.19,200.89L329.73,203.50L328.19,206.11L326.65,203.50Z" fill="#e4eef8" fill-opacity="0.4" stroke="#3f7fbc" stroke-width="1.45"/>
<path d="M329.64,198.39L331.18,201.00L329.64,203.61L328.09,201.00Z" fill="#e4eef8" fill-opacity="0.4" stroke="#3f7fbc" stroke-width="1.45"/>
<path d="M331.05,196.39L332.59,199.00L331.05,201.61L329.51,199.00Z" fill="#e4eef8" fill-opacity="0.4" stroke="#3f7fbc" stroke-width="1.45"/>
<path d="M332.43,194.39L333.97,197.00L332.43,199.61L330.89,197.00Z" fill="#e4eef8" fill-opacity="0.4" stroke="#3f7fbc" stroke-width="1.45"/>
<path d="M333.78,196.89L335.32,199.50L333.78,202.11L332.24,199.50Z" fill="#e4eef8" fill-opacity="0.4" stroke="#3f7fbc" stroke-width="1.45"/>
<path d="M335.10,196.39L336.64,199.00L335.10,201.61L333.56,199.00Z" fill="#e4eef8" fill-opacity="0.4" stroke="#3f7fbc" stroke-width="1.45"/>
<path d="M336.40,198.39L337.94,201.00L336.40,203.61L334.85,201.00Z" fill="#e4eef8" fill-opacity="0.4" stroke="#3f7fbc" stroke-width="1.45"/>
<path d="M337.66,197.89L339.21,200.50L337.66,203.11L336.12,200.50Z" fill="#e4eef8" fill-opacity="0.4" stroke="#3f7fbc" stroke-width="1.45"/>
<path d="M338.90,196.89L340.45,199.50L338.90,202.11L337.36,199.50Z" fill="#e4eef8" fill-opacity="0.4" stroke="#3f7fbc" stroke-width="1.45"/>
<rect x="96.70" y="190.40" width="3.6" height="3.6" fill="#e6edf8" fill-opacity="0.4" stroke="#a7bfe3" stroke-width="1.45"/>
<rect x="139.30" y="190.90" width="3.6" height="3.6" fill="#e6edf8" fill-opacity="0.4" stroke="#a7bfe3" stroke-width="1.45"/>
<rect x="164.21" y="189.60" width="3.6" height="3.6" fill="#e6edf8" fill-opacity="0.4" stroke="#a7bfe3" stroke-width="1.45"/>
<rect x="181.89" y="188.00" width="3.6" height="3.6" fill="#e6edf8" fill-opacity="0.4" stroke="#a7bfe3" stroke-width="1.45"/>
<rect x="195.60" y="204.60" width="3.6" height="3.6" fill="#e6edf8" fill-opacity="0.4" stroke="#a7bfe3" stroke-width="1.45"/>
<rect x="206.81" y="193.60" width="3.6" height="3.6" fill="#e6edf8" fill-opacity="0.4" stroke="#a7bfe3" stroke-width="1.45"/>
<rect x="216.28" y="190.00" width="3.6" height="3.6" fill="#e6edf8" fill-opacity="0.4" stroke="#a7bfe3" stroke-width="1.45"/>
<rect x="224.49" y="187.60" width="3.6" height="3.6" fill="#e6edf8" fill-opacity="0.4" stroke="#a7bfe3" stroke-width="1.45"/>
<rect x="231.73" y="193.60" width="3.6" height="3.6" fill="#e6edf8" fill-opacity="0.4" stroke="#a7bfe3" stroke-width="1.45"/>
<rect x="238.20" y="189.60" width="3.6" height="3.6" fill="#e6edf8" fill-opacity="0.4" stroke="#a7bfe3" stroke-width="1.45"/>
<rect x="244.06" y="187.60" width="3.6" height="3.6" fill="#e6edf8" fill-opacity="0.4" stroke="#a7bfe3" stroke-width="1.45"/>
<rect x="249.40" y="191.60" width="3.6" height="3.6" fill="#e6edf8" fill-opacity="0.4" stroke="#a7bfe3" stroke-width="1.45"/>
<rect x="254.32" y="192.20" width="3.6" height="3.6" fill="#e6edf8" fill-opacity="0.4" stroke="#a7bfe3" stroke-width="1.45"/>
<rect x="258.88" y="191.20" width="3.6" height="3.6" fill="#e6edf8" fill-opacity="0.4" stroke="#a7bfe3" stroke-width="1.45"/>
<rect x="263.12" y="200.40" width="3.6" height="3.6" fill="#e6edf8" fill-opacity="0.4" stroke="#a7bfe3" stroke-width="1.45"/>
<rect x="267.08" y="200.40" width="3.6" height="3.6" fill="#e6edf8" fill-opacity="0.4" stroke="#a7bfe3" stroke-width="1.45"/>
<rect x="270.81" y="190.30" width="3.6" height="3.6" fill="#e6edf8" fill-opacity="0.4" stroke="#a7bfe3" stroke-width="1.45"/>
<rect x="274.32" y="190.30" width="3.6" height="3.6" fill="#e6edf8" fill-opacity="0.4" stroke="#a7bfe3" stroke-width="1.45"/>
<rect x="277.64" y="190.30" width="3.6" height="3.6" fill="#e6edf8" fill-opacity="0.4" stroke="#a7bfe3" stroke-width="1.45"/>
<rect x="280.80" y="190.20" width="3.6" height="3.6" fill="#e6edf8" fill-opacity="0.4" stroke="#a7bfe3" stroke-width="1.45"/>
<rect x="283.79" y="194.30" width="3.6" height="3.6" fill="#e6edf8" fill-opacity="0.4" stroke="#a7bfe3" stroke-width="1.45"/>
<rect x="286.65" y="195.70" width="3.6" height="3.6" fill="#e6edf8" fill-opacity="0.4" stroke="#a7bfe3" stroke-width="1.45"/>
<rect x="289.38" y="196.40" width="3.6" height="3.6" fill="#e6edf8" fill-opacity="0.4" stroke="#a7bfe3" stroke-width="1.45"/>
<rect x="292.00" y="197.00" width="3.6" height="3.6" fill="#e6edf8" fill-opacity="0.4" stroke="#a7bfe3" stroke-width="1.45"/>
<rect x="294.51" y="197.70" width="3.6" height="3.6" fill="#e6edf8" fill-opacity="0.4" stroke="#a7bfe3" stroke-width="1.45"/>
<rect x="296.92" y="195.70" width="3.6" height="3.6" fill="#e6edf8" fill-opacity="0.4" stroke="#a7bfe3" stroke-width="1.45"/>
<rect x="299.24" y="193.70" width="3.6" height="3.6" fill="#e6edf8" fill-opacity="0.4" stroke="#a7bfe3" stroke-width="1.45"/>
<rect x="301.47" y="192.20" width="3.6" height="3.6" fill="#e6edf8" fill-opacity="0.4" stroke="#a7bfe3" stroke-width="1.45"/>
<rect x="303.63" y="194.70" width="3.6" height="3.6" fill="#e6edf8" fill-opacity="0.4" stroke="#a7bfe3" stroke-width="1.45"/>
<rect x="305.71" y="191.70" width="3.6" height="3.6" fill="#e6edf8" fill-opacity="0.4" stroke="#a7bfe3" stroke-width="1.45"/>
<rect x="307.73" y="196.20" width="3.6" height="3.6" fill="#e6edf8" fill-opacity="0.4" stroke="#a7bfe3" stroke-width="1.45"/>
<rect x="309.68" y="190.70" width="3.6" height="3.6" fill="#e6edf8" fill-opacity="0.4" stroke="#a7bfe3" stroke-width="1.45"/>
<rect x="311.57" y="194.70" width="3.6" height="3.6" fill="#e6edf8" fill-opacity="0.4" stroke="#a7bfe3" stroke-width="1.45"/>
<rect x="313.40" y="189.20" width="3.6" height="3.6" fill="#e6edf8" fill-opacity="0.4" stroke="#a7bfe3" stroke-width="1.45"/>
<rect x="315.19" y="193.20" width="3.6" height="3.6" fill="#e6edf8" fill-opacity="0.4" stroke="#a7bfe3" stroke-width="1.45"/>
<rect x="316.92" y="197.20" width="3.6" height="3.6" fill="#e6edf8" fill-opacity="0.4" stroke="#a7bfe3" stroke-width="1.45"/>
<rect x="318.60" y="201.00" width="3.6" height="3.6" fill="#e6edf8" fill-opacity="0.4" stroke="#a7bfe3" stroke-width="1.45"/>
<rect x="320.24" y="195.20" width="3.6" height="3.6" fill="#e6edf8" fill-opacity="0.4" stroke="#a7bfe3" stroke-width="1.45"/>
<rect x="321.84" y="188.20" width="3.6" height="3.6" fill="#e6edf8" fill-opacity="0.4" stroke="#a7bfe3" stroke-width="1.45"/>
<rect x="323.39" y="185.00" width="3.6" height="3.6" fill="#e6edf8" fill-opacity="0.4" stroke="#a7bfe3" stroke-width="1.45"/>
<rect x="324.91" y="187.20" width="3.6" height="3.6" fill="#e6edf8" fill-opacity="0.4" stroke="#a7bfe3" stroke-width="1.45"/>
<rect x="326.39" y="191.70" width="3.6" height="3.6" fill="#e6edf8" fill-opacity="0.4" stroke="#a7bfe3" stroke-width="1.45"/>
<rect x="327.84" y="188.70" width="3.6" height="3.6" fill="#e6edf8" fill-opacity="0.4" stroke="#a7bfe3" stroke-width="1.45"/>
<rect x="329.25" y="195.20" width="3.6" height="3.6" fill="#e6edf8" fill-opacity="0.4" stroke="#a7bfe3" stroke-width="1.45"/>
<rect x="330.63" y="201.00" width="3.6" height="3.6" fill="#e6edf8" fill-opacity="0.4" stroke="#a7bfe3" stroke-width="1.45"/>
<rect x="331.98" y="194.20" width="3.6" height="3.6" fill="#e6edf8" fill-opacity="0.4" stroke="#a7bfe3" stroke-width="1.45"/>
<rect x="333.30" y="190.70" width="3.6" height="3.6" fill="#e6edf8" fill-opacity="0.4" stroke="#a7bfe3" stroke-width="1.45"/>
<rect x="334.60" y="193.20" width="3.6" height="3.6" fill="#e6edf8" fill-opacity="0.4" stroke="#a7bfe3" stroke-width="1.45"/>
<rect x="335.86" y="189.20" width="3.6" height="3.6" fill="#e6edf8" fill-opacity="0.4" stroke="#a7bfe3" stroke-width="1.45"/>
<rect x="337.10" y="192.20" width="3.6" height="3.6" fill="#e6edf8" fill-opacity="0.4" stroke="#a7bfe3" stroke-width="1.45"/>
<circle cx="98.50" cy="200.90" r="2.05" fill="#f7eef7" fill-opacity="0.4" stroke="#dab8da" stroke-width="1.4"/>
<circle cx="141.10" cy="190.10" r="2.05" fill="#f7eef7" fill-opacity="0.4" stroke="#dab8da" stroke-width="1.4"/>
<circle cx="166.01" cy="193.10" r="2.05" fill="#f7eef7" fill-opacity="0.4" stroke="#dab8da" stroke-width="1.4"/>
<circle cx="183.69" cy="191.40" r="2.05" fill="#f7eef7" fill-opacity="0.4" stroke="#dab8da" stroke-width="1.4"/>
<circle cx="197.40" cy="194.10" r="2.05" fill="#f7eef7" fill-opacity="0.4" stroke="#dab8da" stroke-width="1.4"/>
<circle cx="208.61" cy="195.40" r="2.05" fill="#f7eef7" fill-opacity="0.4" stroke="#dab8da" stroke-width="1.4"/>
<circle cx="218.08" cy="194.10" r="2.05" fill="#f7eef7" fill-opacity="0.4" stroke="#dab8da" stroke-width="1.4"/>
<circle cx="226.29" cy="199.50" r="2.05" fill="#f7eef7" fill-opacity="0.4" stroke="#dab8da" stroke-width="1.4"/>
<circle cx="233.53" cy="192.40" r="2.05" fill="#f7eef7" fill-opacity="0.4" stroke="#dab8da" stroke-width="1.4"/>
<circle cx="240.00" cy="196.10" r="2.05" fill="#f7eef7" fill-opacity="0.4" stroke="#dab8da" stroke-width="1.4"/>
<circle cx="245.86" cy="196.10" r="2.05" fill="#f7eef7" fill-opacity="0.4" stroke="#dab8da" stroke-width="1.4"/>
<circle cx="251.20" cy="194.50" r="2.05" fill="#f7eef7" fill-opacity="0.4" stroke="#dab8da" stroke-width="1.4"/>
<circle cx="256.12" cy="193.40" r="2.05" fill="#f7eef7" fill-opacity="0.4" stroke="#dab8da" stroke-width="1.4"/>
<circle cx="260.68" cy="188.10" r="2.05" fill="#f7eef7" fill-opacity="0.4" stroke="#dab8da" stroke-width="1.4"/>
<circle cx="264.92" cy="199.50" r="2.05" fill="#f7eef7" fill-opacity="0.4" stroke="#dab8da" stroke-width="1.4"/>
<circle cx="268.88" cy="186.80" r="2.05" fill="#f7eef7" fill-opacity="0.4" stroke="#dab8da" stroke-width="1.4"/>
<circle cx="272.61" cy="190.00" r="2.05" fill="#f7eef7" fill-opacity="0.4" stroke="#dab8da" stroke-width="1.4"/>
<circle cx="276.12" cy="195.50" r="2.05" fill="#f7eef7" fill-opacity="0.4" stroke="#dab8da" stroke-width="1.4"/>
<circle cx="279.44" cy="197.50" r="2.05" fill="#f7eef7" fill-opacity="0.4" stroke="#dab8da" stroke-width="1.4"/>
<circle cx="282.60" cy="204.20" r="2.05" fill="#f7eef7" fill-opacity="0.4" stroke="#dab8da" stroke-width="1.4"/>
<circle cx="285.59" cy="203.50" r="2.05" fill="#f7eef7" fill-opacity="0.4" stroke="#dab8da" stroke-width="1.4"/>
<circle cx="288.45" cy="194.10" r="2.05" fill="#f7eef7" fill-opacity="0.4" stroke="#dab8da" stroke-width="1.4"/>
<circle cx="291.18" cy="195.50" r="2.05" fill="#f7eef7" fill-opacity="0.4" stroke="#dab8da" stroke-width="1.4"/>
<circle cx="293.80" cy="194.10" r="2.05" fill="#f7eef7" fill-opacity="0.4" stroke="#dab8da" stroke-width="1.4"/>
<circle cx="296.31" cy="192.80" r="2.05" fill="#f7eef7" fill-opacity="0.4" stroke="#dab8da" stroke-width="1.4"/>
<circle cx="298.72" cy="189.40" r="2.05" fill="#f7eef7" fill-opacity="0.4" stroke="#dab8da" stroke-width="1.4"/>
<circle cx="301.04" cy="189.90" r="2.05" fill="#f7eef7" fill-opacity="0.4" stroke="#dab8da" stroke-width="1.4"/>
<circle cx="303.27" cy="192.00" r="2.05" fill="#f7eef7" fill-opacity="0.4" stroke="#dab8da" stroke-width="1.4"/>
<circle cx="305.43" cy="196.30" r="2.05" fill="#f7eef7" fill-opacity="0.4" stroke="#dab8da" stroke-width="1.4"/>
<circle cx="307.51" cy="202.20" r="2.05" fill="#f7eef7" fill-opacity="0.4" stroke="#dab8da" stroke-width="1.4"/>
<circle cx="309.53" cy="197.40" r="2.05" fill="#f7eef7" fill-opacity="0.4" stroke="#dab8da" stroke-width="1.4"/>
<circle cx="311.48" cy="195.30" r="2.05" fill="#f7eef7" fill-opacity="0.4" stroke="#dab8da" stroke-width="1.4"/>
<circle cx="313.37" cy="192.00" r="2.05" fill="#f7eef7" fill-opacity="0.4" stroke="#dab8da" stroke-width="1.4"/>
<circle cx="315.20" cy="199.00" r="2.05" fill="#f7eef7" fill-opacity="0.4" stroke="#dab8da" stroke-width="1.4"/>
<circle cx="316.99" cy="200.00" r="2.05" fill="#f7eef7" fill-opacity="0.4" stroke="#dab8da" stroke-width="1.4"/>
<circle cx="318.72" cy="194.00" r="2.05" fill="#f7eef7" fill-opacity="0.4" stroke="#dab8da" stroke-width="1.4"/>
<circle cx="320.40" cy="189.50" r="2.05" fill="#f7eef7" fill-opacity="0.4" stroke="#dab8da" stroke-width="1.4"/>
<circle cx="322.04" cy="191.00" r="2.05" fill="#f7eef7" fill-opacity="0.4" stroke="#dab8da" stroke-width="1.4"/>
<circle cx="323.64" cy="196.00" r="2.05" fill="#f7eef7" fill-opacity="0.4" stroke="#dab8da" stroke-width="1.4"/>
<circle cx="325.19" cy="193.00" r="2.05" fill="#f7eef7" fill-opacity="0.4" stroke="#dab8da" stroke-width="1.4"/>
<circle cx="326.71" cy="190.50" r="2.05" fill="#f7eef7" fill-opacity="0.4" stroke="#dab8da" stroke-width="1.4"/>
<circle cx="328.19" cy="195.50" r="2.05" fill="#f7eef7" fill-opacity="0.4" stroke="#dab8da" stroke-width="1.4"/>
<circle cx="329.64" cy="192.00" r="2.05" fill="#f7eef7" fill-opacity="0.4" stroke="#dab8da" stroke-width="1.4"/>
<circle cx="331.05" cy="196.50" r="2.05" fill="#f7eef7" fill-opacity="0.4" stroke="#dab8da" stroke-width="1.4"/>
<circle cx="332.43" cy="191.50" r="2.05" fill="#f7eef7" fill-opacity="0.4" stroke="#dab8da" stroke-width="1.4"/>
<circle cx="333.78" cy="195.00" r="2.05" fill="#f7eef7" fill-opacity="0.4" stroke="#dab8da" stroke-width="1.4"/>
<circle cx="335.10" cy="193.50" r="2.05" fill="#f7eef7" fill-opacity="0.4" stroke="#dab8da" stroke-width="1.4"/>
<circle cx="336.40" cy="190.50" r="2.05" fill="#f7eef7" fill-opacity="0.4" stroke="#dab8da" stroke-width="1.4"/>
<circle cx="337.66" cy="194.50" r="2.05" fill="#f7eef7" fill-opacity="0.4" stroke="#dab8da" stroke-width="1.4"/>
<circle cx="338.90" cy="192.00" r="2.05" fill="#f7eef7" fill-opacity="0.4" stroke="#dab8da" stroke-width="1.4"/>
</g>
</g>
<line x1="98.50" y1="270.0" x2="98.50" y2="265.4" stroke="#262626" stroke-width="1.0"/>
<line x1="240.00" y1="270.0" x2="240.00" y2="265.4" stroke="#262626" stroke-width="1.0"/>
<rect x="55.7" y="154.4" width="283.3" height="115.6" fill="none" stroke="#262626" stroke-width="1.1"/>
<path transform="translate(33.20,32.80) scale(0.00537)" d="M763,0H583V-1147Q518,-1085 412.5,-1023Q307,-961 223,-930V-1104Q374,-1175 487,-1276Q600,-1377 647,-1472H763Z" fill="#1a1a1a" stroke="#1a1a1a" stroke-width="59.6"/><text x="39.07" y="32.80" font-size="11.0" stroke="#1a1a1a" stroke-width="0.27">0</text><path transform="translate(46.05,25.10) scale(0.00371)" d="M763,0H583V-1147Q518,-1085 412.5,-1023Q307,-961 223,-930V-1104Q374,-1175 487,-1276Q600,-1377 647,-1472H763Z" fill="#1a1a1a" stroke="#1a1a1a" stroke-width="86.2"/>
<path transform="translate(33.20,90.60) scale(0.00537)" d="M763,0H583V-1147Q518,-1085 412.5,-1023Q307,-961 223,-930V-1104Q374,-1175 487,-1276Q600,-1377 647,-1472H763Z" fill="#1a1a1a" stroke="#1a1a1a" stroke-width="59.6"/><text x="39.07" y="90.60" font-size="11.0" stroke="#1a1a1a" stroke-width="0.27">0</text><text x="46.05" y="82.90" font-size="7.6" stroke="#1a1a1a" stroke-width="0.2">0</text>
<path transform="translate(28.90,147.90) scale(0.00537)" d="M763,0H583V-1147Q518,-1085 412.5,-1023Q307,-961 223,-930V-1104Q374,-1175 487,-1276Q600,-1377 647,-1472H763Z" fill="#1a1a1a" stroke="#1a1a1a" stroke-width="59.6"/><text x="34.77" y="147.90" font-size="11.0" stroke="#1a1a1a" stroke-width="0.27">0</text><path d="M42.10,137.55H45.95" stroke="#1a1a1a" stroke-width="0.85"/><path transform="translate(46.15,140.20) scale(0.00371)" d="M763,0H583V-1147Q518,-1085 412.5,-1023Q307,-961 223,-930V-1104Q374,-1175 487,-1276Q600,-1377 647,-1472H763Z" fill="#1a1a1a" stroke="#1a1a1a" stroke-width="86.2"/>
<path transform="translate(33.20,160.00) scale(0.00537)" d="M763,0H583V-1147Q518,-1085 412.5,-1023Q307,-961 223,-930V-1104Q374,-1175 487,-1276Q600,-1377 647,-1472H763Z" fill="#1a1a1a" stroke="#1a1a1a" stroke-width="59.6"/><text x="39.07" y="160.00" font-size="11.0" stroke="#1a1a1a" stroke-width="0.27">0</text><path transform="translate(46.05,152.30) scale(0.00371)" d="M763,0H583V-1147Q518,-1085 412.5,-1023Q307,-961 223,-930V-1104Q374,-1175 487,-1276Q600,-1377 647,-1472H763Z" fill="#1a1a1a" stroke="#1a1a1a" stroke-width="86.2"/>
<path transform="translate(33.20,217.65) scale(0.00537)" d="M763,0H583V-1147Q518,-1085 412.5,-1023Q307,-961 223,-930V-1104Q374,-1175 487,-1276Q600,-1377 647,-1472H763Z" fill="#1a1a1a" stroke="#1a1a1a" stroke-width="59.6"/><text x="39.07" y="217.65" font-size="11.0" stroke="#1a1a1a" stroke-width="0.27">0</text><text x="46.05" y="209.95" font-size="7.6" stroke="#1a1a1a" stroke-width="0.2">0</text>
<path transform="translate(28.90,275.60) scale(0.00537)" d="M763,0H583V-1147Q518,-1085 412.5,-1023Q307,-961 223,-930V-1104Q374,-1175 487,-1276Q600,-1377 647,-1472H763Z" fill="#1a1a1a" stroke="#1a1a1a" stroke-width="59.6"/><text x="34.77" y="275.60" font-size="11.0" stroke="#1a1a1a" stroke-width="0.27">0</text><path d="M42.10,265.25H45.95" stroke="#1a1a1a" stroke-width="0.85"/><path transform="translate(46.15,267.90) scale(0.00371)" d="M763,0H583V-1147Q518,-1085 412.5,-1023Q307,-961 223,-930V-1104Q374,-1175 487,-1276Q600,-1377 647,-1472H763Z" fill="#1a1a1a" stroke="#1a1a1a" stroke-width="86.2"/>
<path transform="translate(89.50,285.90) scale(0.00537)" d="M763,0H583V-1147Q518,-1085 412.5,-1023Q307,-961 223,-930V-1104Q374,-1175 487,-1276Q600,-1377 647,-1472H763Z" fill="#1a1a1a" stroke="#1a1a1a" stroke-width="59.6"/><text x="95.37" y="285.90" font-size="11.0" stroke="#1a1a1a" stroke-width="0.27">0</text><text x="102.35" y="278.20" font-size="7.6" stroke="#1a1a1a" stroke-width="0.2">0</text>
<path transform="translate(231.00,285.90) scale(0.00537)" d="M763,0H583V-1147Q518,-1085 412.5,-1023Q307,-961 223,-930V-1104Q374,-1175 487,-1276Q600,-1377 647,-1472H763Z" fill="#1a1a1a" stroke="#1a1a1a" stroke-width="59.6"/><text x="236.87" y="285.90" font-size="11.0" stroke="#1a1a1a" stroke-width="0.27">0</text><path transform="translate(243.85,278.20) scale(0.00371)" d="M763,0H583V-1147Q518,-1085 412.5,-1023Q307,-961 223,-930V-1104Q374,-1175 487,-1276Q600,-1377 647,-1472H763Z" fill="#1a1a1a" stroke="#1a1a1a" stroke-width="86.2"/>
<text x="116.59" y="292.90" font-size="13.9" stroke="#1a1a1a" stroke-width="0.2">Time Steps (num)</text>
<g transform="translate(19.1,201.5) rotate(-90)"><text x="-1.14" y="0.00" font-size="13.9" stroke="#1a1a1a" stroke-width="0.2">Norm. Risk (a.u.)</text></g>
<text x="57.67" y="37.70" font-size="10.8" font-weight="bold">(a)</text>
<text x="57.67" y="164.80" font-size="10.8" font-weight="bold">(b)</text>
<rect x="75.6" y="31.1" width="5.8" height="5.4" fill="#cde6dd"/>
<text x="86.39" y="37.70" font-size="11.05" stroke="#1a1a1a" stroke-width="0.27">Desired Perf.</text>
<path d="M145.80,9.90L147.90,14.10L143.70,14.10Z" fill="#c9c4e6" fill-opacity="0.4" stroke="#47399a" stroke-width="1.45"/>
<text x="152.21" y="15.50" font-size="11.0" stroke="#1a1a1a" stroke-width="0.27">0.2</text>
<path d="M194.70,8.65L196.50,11.70L194.70,14.75L192.90,11.70Z" fill="#e4eef8" fill-opacity="0.4" stroke="#3f7fbc" stroke-width="1.45"/>
<text x="198.98" y="15.50" font-size="11.0" stroke="#1a1a1a" stroke-width="0.27">0.4</text>
<rect x="240.20" y="9.60" width="4.2" height="4.2" fill="#e6edf8" fill-opacity="0.4" stroke="#a7bfe3" stroke-width="1.45"/>
<text x="248.83" y="15.50" font-size="11.0" stroke="#1a1a1a" stroke-width="0.27">0.6</text>
<circle cx="290.70" cy="11.70" r="2.35" fill="#f7eef7" fill-opacity="0.4" stroke="#dab8da" stroke-width="1.4"/>
<text x="297.03" y="15.50" font-size="11.0" stroke="#1a1a1a" stroke-width="0.27">0.8</text>
<text transform="translate(54.41,15.70) scale(1.033,0.954)" font-size="12.0" font-family="Liberation Serif, serif" font-style="italic" stroke="#1a1a1a" stroke-width="0.3">J</text>
<text transform="translate(60.80,15.70) scale(1.005,0.835)" font-size="12.0" font-family="Liberation Serif, serif" font-style="italic">ω</text>
<text transform="translate(68.92,17.30) scale(1.101,0.819)" font-size="9.0" font-family="Liberation Serif, serif">0</text>
<line x1="75.0" y1="17.7" x2="79.5" y2="7.3" stroke="#1a1a1a" stroke-width="0.85"/>
<text transform="translate(80.22,15.70) scale(0.952,0.835)" font-size="12.0" font-family="Liberation Serif, serif" font-style="italic">ω</text>
<text transform="translate(88.35,11.00) scale(0.904,1.025)" font-size="9.0" font-family="Liberation Serif, serif">(</text>
<text transform="translate(91.29,11.00) scale(1.172,0.794)" font-size="10.0" font-family="Liberation Serif, serif" font-style="italic">B</text>
<text transform="translate(99.24,11.00) scale(0.904,1.025)" font-size="9.0" font-family="Liberation Serif, serif">)</text>
<path d="M106.5,11.9C107.6,10.0 109.2,10.2 110.6,11.1C112.0,12.0 113.6,12.2 114.8,10.3" fill="none" stroke="#1a1a1a" stroke-width="1.05"/>
<path d="M106.5,15.2C107.6,13.3 109.2,13.5 110.6,14.4C112.0,15.3 113.6,15.5 114.8,13.6" fill="none" stroke="#1a1a1a" stroke-width="1.05"/>
<text transform="translate(57.41,94.20) scale(1.147,0.928)" font-size="11.5" font-family="Liberation Serif, serif" font-style="italic">μ</text>
<text transform="translate(64.27,97.00) scale(1.335,0.872)" font-size="8.8" font-family="Liberation Serif, serif" font-style="italic">f</text>
<path d="M74.6,90.9H83.2M74.6,93.2H83.2" stroke="#444" stroke-width="0.55" fill="none"/>
<text transform="translate(86.11,94.80) scale(1.297,1.053)" font-size="10.0" font-family="Liberation Serif, serif" stroke="#1a1a1a" stroke-width="0.1">0</text>
<text x="249.16" y="130.90" font-size="11.0" stroke="#1a1a1a" stroke-width="0.27">True</text><text transform="translate(273.37,131.20) scale(0.861,1.009)" font-size="12.0" font-family="Liberation Serif, serif" stroke="#1a1a1a" stroke-width="0.3">{</text><text transform="translate(278.37,131.20) scale(0.861,1.009)" font-size="12.0" font-family="Liberation Serif, serif" stroke="#1a1a1a" stroke-width="0.3">{</text><text transform="translate(284.49,130.90) scale(1.213,1.000)" font-size="11.5" font-family="Liberation Serif, serif" font-style="italic" stroke="#1a1a1a" stroke-width="0.15">ϕ</text><text transform="translate(291.73,132.00) scale(1.042,1.000)" font-size="8.0" font-family="Liberation Serif, serif" font-style="italic" stroke="#1a1a1a" stroke-width="0.15">q</text><text transform="translate(297.54,131.20) scale(0.889,1.009)" font-size="12.0" font-family="Liberation Serif, serif" stroke="#1a1a1a" stroke-width="0.3">}</text><text transform="translate(303.07,130.90) scale(1.030,1.000)" font-size="11.0" font-family="Liberation Serif, serif" stroke="#1a1a1a" stroke-width="0.15">,</text><text transform="translate(308.71,130.90) scale(1.157,1.000)" font-size="11.5" font-family="Liberation Serif, serif" font-style="italic">σ</text><text transform="translate(315.84,130.90) scale(1.091,1.000)" font-size="11.0" font-family="Liberation Serif, serif" stroke="#1a1a1a" stroke-width="0.15">,</text><text transform="translate(321.09,130.90) scale(1.379,1.000)" font-size="10.5" font-family="Liberation Serif, serif" font-style="italic">R</text><text transform="translate(329.62,131.20) scale(1.000,1.009)" font-size="12.0" font-family="Liberation Serif, serif" stroke="#1a1a1a" stroke-width="0.3">}</text>
<text x="230.00" y="259.50" font-size="11.0" stroke="#1a1a1a" stroke-width="0.27">Learned</text><text transform="translate(273.37,259.20) scale(0.861,1.009)" font-size="12.0" font-family="Liberation Serif, serif" stroke="#1a1a1a" stroke-width="0.3">{</text><text transform="translate(278.37,259.20) scale(0.861,1.009)" font-size="12.0" font-family="Liberation Serif, serif" stroke="#1a1a1a" stroke-width="0.3">{</text><text transform="translate(284.49,258.90) scale(1.213,1.000)" font-size="11.5" font-family="Liberation Serif, serif" font-style="italic" stroke="#1a1a1a" stroke-width="0.15">ϕ</text><text transform="translate(291.73,260.00) scale(1.042,1.000)" font-size="8.0" font-family="Liberation Serif, serif" font-style="italic" stroke="#1a1a1a" stroke-width="0.15">q</text><text transform="translate(297.54,259.20) scale(0.889,1.009)" font-size="12.0" font-family="Liberation Serif, serif" stroke="#1a1a1a" stroke-width="0.3">}</text><text transform="translate(303.07,258.90) scale(1.030,1.000)" font-size="11.0" font-family="Liberation Serif, serif" stroke="#1a1a1a" stroke-width="0.15">,</text><text transform="translate(308.71,258.90) scale(1.157,1.000)" font-size="11.5" font-family="Liberation Serif, serif" font-style="italic">σ</text><text transform="translate(315.84,258.90) scale(1.091,1.000)" font-size="11.0" font-family="Liberation Serif, serif" stroke="#1a1a1a" stroke-width="0.15">,</text><text transform="translate(321.09,258.90) scale(1.379,1.000)" font-size="10.5" font-family="Liberation Serif, serif" font-style="italic">R</text><text transform="translate(329.62,259.20) scale(1.000,1.009)" font-size="12.0" font-family="Liberation Serif, serif" stroke="#1a1a1a" stroke-width="0.3">}</text>
</svg></body></html>
